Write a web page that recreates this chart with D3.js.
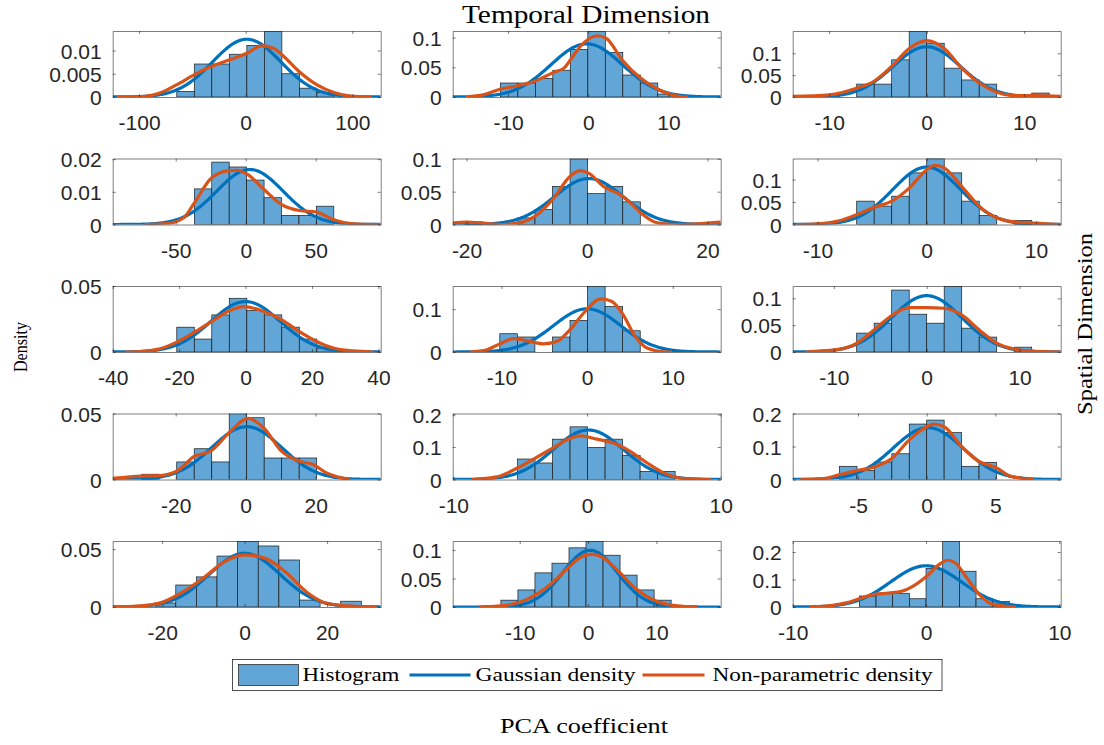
<!DOCTYPE html>
<html>
<head>
<meta charset="utf-8">
<script src="https://cdn.jsdelivr.net/npm/d3@7"></script>
<style>
  body { margin: 0; background: #fff; }
  svg { display: block; }
</style>
</head>
<body>
<svg id="chart" width="1104" height="745"></svg>
<script>
// subplots are listed row by row (5 rows x 3 columns)

// x limits of each subplot
const xLimits = [
  [-124.7, 126.6], [-16.9, 16.5], [-13.74, 13.74],
  [-95, 96.4], [-22.3, 22.2], [-12.27, 12.27],
  [-40, 40.7], [-15.7, 15.6], [-14.43, 14.43],
  [-38, 38.6], [-10.05, 10], [-9.76, 9.76],
  [-32, 33], [-19.8, 19.4], [-10, 10.1]
];
// top of the density axis
const yMax = [
  0.0142, 0.111, 0.151,
  0.0202, 0.1005, 0.147,
  0.05, 0.154, 0.123,
  0.05, 0.203, 0.2,
  0.057, 0.116, 0.24
];
const xTicks = [
  [-100, 0, 100], [-10, 0, 10], [-10, 0, 10],
  [-50, 0, 50], [-20, 0, 20], [-10, 0, 10],
  [-40, -20, 0, 20, 40], [-10, 0, 10], [-10, 0, 10],
  [-20, 0, 20], [-10, 0, 10], [-5, 0, 5],
  [-20, 0, 20], [-10, 0, 10], [-10, 0, 10]
];
const yTicks = [
  [0, 0.005, 0.01], [0, 0.05, 0.1], [0, 0.05, 0.1],
  [0, 0.01, 0.02], [0, 0.05, 0.1], [0, 0.05, 0.1],
  [0, 0.05], [0, 0.1], [0, 0.05, 0.1],
  [0, 0.05], [0, 0.1, 0.2], [0, 0.1, 0.2],
  [0, 0.05], [0, 0.05, 0.1], [0, 0.1, 0.2]
];

// histograms: first bin edge, bin width, density of each bin
const binStart = [
  -64.6, -10.96, -10.77,
  -36.7, -20.3, -6.41,
  -20.7, -10.2, -7.54,
  -29.7, -5.2, -6.35,
  -21.7, -12.75, -5.0
];
const binWidth = [
  16.42, 2.18, 1.795,
  12.45, 2.915, 1.603,
  5.27, 2.05, 1.885,
  5.0, 1.31, 1.27,
  5.0, 2.49, 1.25
];
const binHeights = [
  [0.0012, 0.0071, 0.0071, 0.0092, 0.0111, 0.0142, 0.0050, 0.0019, 0.0010],
  [0.0235, 0.0235, 0.031, 0.045, 0.080, 0.111, 0.075, 0.037, 0.0235, 0.005],
  [0.006, 0, 0.0295, 0.0295, 0.085, 0.151, 0.123, 0.066, 0.039, 0.0295, 0, 0, 0.009],
  [0.0109, 0.0191, 0.0176, 0.0136, 0.0082, 0.0028, 0.0028, 0.0056],
  [0.004, 0, 0, 0.01, 0.0228, 0.058, 0.1, 0.047, 0.058, 0.0345],
  [0.052, 0.041, 0.063, 0.115, 0.147, 0.115, 0.052, 0.020, 0, 0.009],
  [0.0188, 0.0098, 0.0281, 0.0407, 0.0314, 0.0281, 0.0188, 0.0098, 0.003],
  [0.0426, 0.035, 0, 0.035, 0.0736, 0.154, 0.106, 0.0496],
  [0.0352, 0.0537, 0.1154, 0.0704, 0.0537, 0.1228, 0.0444, 0.0278, 0, 0.009],
  [0.004, 0, 0.0133, 0.0233, 0.0133, 0.053, 0.0468, 0.0163, 0.0163, 0.0163],
  [0.063, 0.0508, 0.124, 0.162, 0.0985, 0.124, 0.074, 0.025, 0.025],
  [0.04, 0.027, 0.053, 0.078, 0.168, 0.18, 0.142, 0.04, 0.052],
  [0.0035, 0.019, 0.026, 0.044, 0.057, 0.0527, 0.0406, 0.006, 0, 0.005],
  [0.012, 0.030, 0.060, 0.077, 0.104, 0.116, 0.091, 0.056, 0.030, 0.012],
  [0.04, 0.05, 0.05, 0.03, 0.14, 0.24, 0.13, 0.03, 0.02]
];

// Gaussian fit of each subplot
const gaussMean = [1, -0.2, 0, 3, 0.3, 0, 0, 0, 0, 0.3, 0.1, 0.1, 0, 0.3, 0];
const gaussSd = [32.1, 4.46, 3.47, 23.7, 5.7, 3.12, 10.44, 3.96, 3.8, 9.97, 2.62, 2.54, 8.6, 4.0, 2.66];

// non-parametric density
const kdeX = [
  [-121, -96, -80, -65, -48, -32, -15, 1, 15, 26, 34, 50, 67, 82, 98, 118],
  [-15.3, -13, -11, -8.8, -6.6, -4.4, -3, -2.2, -1, 1.1, 2.2, 4.3, 6.5, 8.7, 10.9, 12.4],
  [-13.74, -10, -7.2, -5.4, -3.6, -1.8, 0, 1.8, 3.6, 5.4, 7.2, 9.1, 11.3, 13.74],
  [-72, -56, -44.5, -36.7, -24.3, -11.7, -6.4, 0.7, 13.1, 25.7, 38.1, 50.7, 62.6, 77, 96],
  [-22.3, -20, -17.2, -13.9, -10.6, -8.6, -5.7, -2.8, -1.1, 0.1, 3.05, 5, 7.2, 8.9, 11.7, 15, 18.3, 22.2],
  [-11.9, -10, -7.9, -6.4, -4.8, -3.2, -1.6, 0, 0.76, 1.6, 3.2, 4.8, 6.4, 8.0, 10.1, 12.27],
  [-36.4, -30.8, -25.8, -20.7, -15.5, -10.2, -4.9, -0.7, 5.6, 10.9, 16.1, 21.4, 26.4, 32.4, 38.5],
  [-13.7, -11.7, -10.2, -8.6, -7.0, -5.1, -3.5, -2.0, -0.4, 1.6, 2.9, 4.2, 5.5, 7.0, 9.0, 9.8],
  [-13.1, -9.7, -7.5, -5.65, -3.77, -1.885, 0, 1.885, 3.77, 5.65, 7.54, 9.42, 11.8, 14.43],
  [-38, -29.7, -24.5, -19.7, -14.7, -9.7, -4.7, 0.8, 5.3, 10.3, 15.3, 19.3, 23.1, 29.8],
  [-8.6, -6.75, -5.2, -3.87, -2.57, -1.25, -0.5, 0.75, 2.0, 3.25, 4.5, 5.75, 7.25, 9.25],
  [-9.2, -7.5, -6.3, -5.1, -3.8, -2.5, -1.27, 0, 0.5, 1.27, 2.54, 3.8, 5.1, 6.1, 7.8],
  [-32, -25, -20, -15, -10, -5, 0, 5, 10, 15, 20, 25, 32],
  [-16, -12, -9, -6, -3, -1, 0.5, 2, 4, 7, 10, 13, 16],
  [-8.7, -7, -6, -5, -4, -3, -2, -1, 0, 1, 1.6, 2.2, 3, 4, 5, 6.7]
];
const kdeY = [
  [0, 0.0001, 0.0009, 0.0026, 0.0048, 0.0066, 0.0080, 0.0094, 0.0110, 0.0105, 0.0091, 0.0055, 0.0026, 0.0010, 0.0002, 0],
  [0, 0.004, 0.013, 0.019, 0.027, 0.041, 0.049, 0.063, 0.085, 0.103, 0.099, 0.061, 0.032, 0.013, 0.002, 0],
  [0.0015, 0.005, 0.02, 0.036, 0.07, 0.111, 0.129, 0.111, 0.066, 0.032, 0.011, 0.003, 0.003, 0.0015],
  [0, 0.0003, 0.002, 0.0066, 0.0143, 0.0165, 0.0166, 0.0155, 0.0107, 0.0061, 0.0043, 0.0038, 0.0015, 0.0002, 0],
  [0.002, 0.0035, 0.002, 0, 0.004, 0.0127, 0.038, 0.0736, 0.082, 0.079, 0.056, 0.048, 0.033, 0.018, 0.0025, 0, 0.001, 0.0035],
  [0, 0.0015, 0.009, 0.022, 0.0385, 0.052, 0.081, 0.122, 0.132, 0.126, 0.085, 0.041, 0.015, 0.006, 0.003, 0],
  [0, 0.0005, 0.0025, 0.0075, 0.0148, 0.0231, 0.0312, 0.0344, 0.0307, 0.0244, 0.0156, 0.008, 0.003, 0.0008, 0],
  [0, 0.0054, 0.019, 0.031, 0.026, 0.019, 0.025, 0.052, 0.091, 0.124, 0.118, 0.087, 0.040, 0.0093, 0.0005, 0],
  [0, 0.0043, 0.0167, 0.0414, 0.068, 0.0827, 0.0827, 0.0815, 0.069, 0.041, 0.0167, 0.0056, 0.0012, 0],
  [0.0008, 0.0025, 0.003, 0.0063, 0.0175, 0.022, 0.0355, 0.0463, 0.0388, 0.0213, 0.0138, 0.0113, 0.005, 0],
  [0, 0.008, 0.0355, 0.066, 0.0964, 0.127, 0.134, 0.124, 0.112, 0.086, 0.0508, 0.0203, 0.003, 0],
  [0, 0.003, 0.015, 0.027, 0.038, 0.065, 0.12, 0.16, 0.168, 0.16, 0.1, 0.055, 0.035, 0.01, 0],
  [0, 0.001, 0.004, 0.013, 0.025, 0.039, 0.045, 0.042, 0.03, 0.013, 0.003, 0.001, 0],
  [0, 0.003, 0.013, 0.035, 0.068, 0.088, 0.093, 0.088, 0.068, 0.032, 0.01, 0.002, 0],
  [0, 0.006, 0.015, 0.03, 0.045, 0.05, 0.055, 0.075, 0.11, 0.155, 0.17, 0.16, 0.11, 0.045, 0.01, 0]
];

const legendLabels = ['Histogram', 'Gaussian density', 'Non-parametric density'];

// layout
const colLeft = [112.7, 452.7, 792.7];
const rowTop = [31, 158.5, 286, 413.5, 541];
const axW = 268, axH = 66;
const barFill = '#62a6d7', blue = '#0072bd', orange = '#d95319';
const axisColor = '#262626';
const sans = '"Liberation Sans", Arial, Helvetica, sans-serif';
const serif = '"Liberation Serif", "Times New Roman", serif';

const svg = d3.select('#chart');
const defs = svg.append('defs');

xLimits.forEach((lim, i) => {
  const r = Math.floor(i / 3), c = i % 3;
  const x = d3.scaleLinear().domain(lim).range([0, axW]);
  const y = d3.scaleLinear().domain([0, yMax[i]]).range([axH, 0]);

  const g = svg.append('g').attr('transform', `translate(${colLeft[c]},${rowTop[r]})`);

  defs.append('clipPath').attr('id', 'clip' + i)
    .append('rect').attr('width', axW).attr('height', axH);

  const plot = g.append('g').attr('clip-path', `url(#clip${i})`);

  // histogram bars
  const bins = binHeights[i].map((h, k) => ({
    x0: binStart[i] + k * binWidth[i],
    x1: binStart[i] + (k + 1) * binWidth[i],
    h: h
  })).filter(d => d.h > 0);

  plot.selectAll('rect.bar')
    .data(bins)
    .join('rect')
    .attr('class', 'bar')
    .attr('x', d => x(d.x0))
    .attr('width', d => x(d.x1) - x(d.x0))
    .attr('y', d => y(d.h))
    .attr('height', d => axH - y(d.h))
    .attr('fill', barFill)
    .attr('stroke', '#1a1a1a')
    .attr('stroke-width', 0.7);

  // Gaussian density from the fitted mean and sd
  const gx = d3.range(0, 241).map(k => lim[0] + (lim[1] - lim[0]) * k / 240);
  const pdf = v => Math.exp(-0.5 * ((v - gaussMean[i]) / gaussSd[i]) ** 2) / (gaussSd[i] * Math.sqrt(2 * Math.PI));
  plot.append('path')
    .datum(gx)
    .attr('fill', 'none')
    .attr('stroke', blue)
    .attr('stroke-width', 3.2)
    .attr('d', d3.line().x(v => x(v)).y(v => y(pdf(v))));

  // non-parametric density
  const kde = kdeX[i].map((v, k) => [v, kdeY[i][k]]);
  plot.append('path')
    .datum(kde)
    .attr('fill', 'none')
    .attr('stroke', orange)
    .attr('stroke-width', 3.2)
    .attr('stroke-linejoin', 'round')
    .attr('d', d3.line().x(d => x(d[0])).y(d => y(d[1])).curve(d3.curveMonotoneX));

  // axes, box on, ticks pointing inward
  const fmt = v => String(v);
  const xAxis = g.append('g').attr('transform', `translate(0,${axH})`)
    .call(d3.axisBottom(x).tickValues(xTicks[i]).tickSize(-3).tickSizeOuter(0).tickPadding(18.5).tickFormat(fmt));
  const yAxis = g.append('g')
    .call(d3.axisLeft(y).tickValues(yTicks[i]).tickSize(-3).tickSizeOuter(0).tickPadding(11).tickFormat(fmt));
  const xTop = g.append('g')
    .call(d3.axisTop(x).tickValues(xTicks[i]).tickSize(-3).tickSizeOuter(0).tickFormat(''));
  const yRight = g.append('g').attr('transform', `translate(${axW},0)`)
    .call(d3.axisRight(y).tickValues(yTicks[i]).tickSize(-3).tickSizeOuter(0).tickFormat(''));

  [xAxis, yAxis, xTop, yRight].forEach(a => {
    a.selectAll('path.domain').attr('stroke', axisColor).attr('stroke-width', 0.6);
    a.selectAll('.tick line').attr('stroke', axisColor).attr('stroke-width', 0.6);
    a.selectAll('text')
      .attr('fill', axisColor)
      .style('font-family', sans)
      .style('font-size', '21px');
  });
  yAxis.selectAll('text').attr('dy', '0.36em');
});

// titles
svg.append('text')
  .attr('x', 586).attr('y', 23)
  .attr('text-anchor', 'middle')
  .attr('textLength', 248).attr('lengthAdjust', 'spacingAndGlyphs')
  .style('font-family', serif).style('font-size', '26px')
  .text('Temporal Dimension');

svg.append('text')
  .attr('transform', 'translate(1092,324) rotate(-90)')
  .attr('text-anchor', 'middle')
  .attr('textLength', 182).attr('lengthAdjust', 'spacingAndGlyphs')
  .style('font-family', serif).style('font-size', '22px')
  .text('Spatial Dimension');

svg.append('text')
  .attr('transform', 'translate(27,347) rotate(-90)')
  .attr('text-anchor', 'middle')
  .attr('textLength', 50).attr('lengthAdjust', 'spacingAndGlyphs')
  .style('font-family', serif).style('font-size', '18px')
  .text('Density');

svg.append('text')
  .attr('x', 584).attr('y', 733)
  .attr('text-anchor', 'middle')
  .attr('textLength', 168).attr('lengthAdjust', 'spacingAndGlyphs')
  .style('font-family', serif).style('font-size', '20px')
  .text('PCA coefficient');

// legend
const lg = svg.append('g').attr('transform', 'translate(232.5,659.5)');
lg.append('rect').attr('width', 709.5).attr('height', 31)
  .attr('fill', '#fff').attr('stroke', axisColor).attr('stroke-width', 0.8);
lg.append('rect').attr('x', 6).attr('y', 5).attr('width', 60).attr('height', 21)
  .attr('fill', barFill).attr('stroke', '#1a1a1a').attr('stroke-width', 0.7);
lg.append('line').attr('x1', 177).attr('x2', 238).attr('y1', 15.5).attr('y2', 15.5)
  .attr('stroke', blue).attr('stroke-width', 3.2);
lg.append('line').attr('x1', 410).attr('x2', 472).attr('y1', 15.5).attr('y2', 15.5)
  .attr('stroke', orange).attr('stroke-width', 3.2);
const legendX = [70, 243, 480];
const legendW = [97, 160, 220];
lg.selectAll('text.lab')
  .data(legendLabels)
  .join('text')
  .attr('class', 'lab')
  .attr('x', (d, k) => legendX[k])
  .attr('y', 21.5)
  .attr('textLength', (d, k) => legendW[k]).attr('lengthAdjust', 'spacingAndGlyphs')
  .style('font-family', serif).style('font-size', '18px')
  .text(d => d);
</script>
</body>
</html>
